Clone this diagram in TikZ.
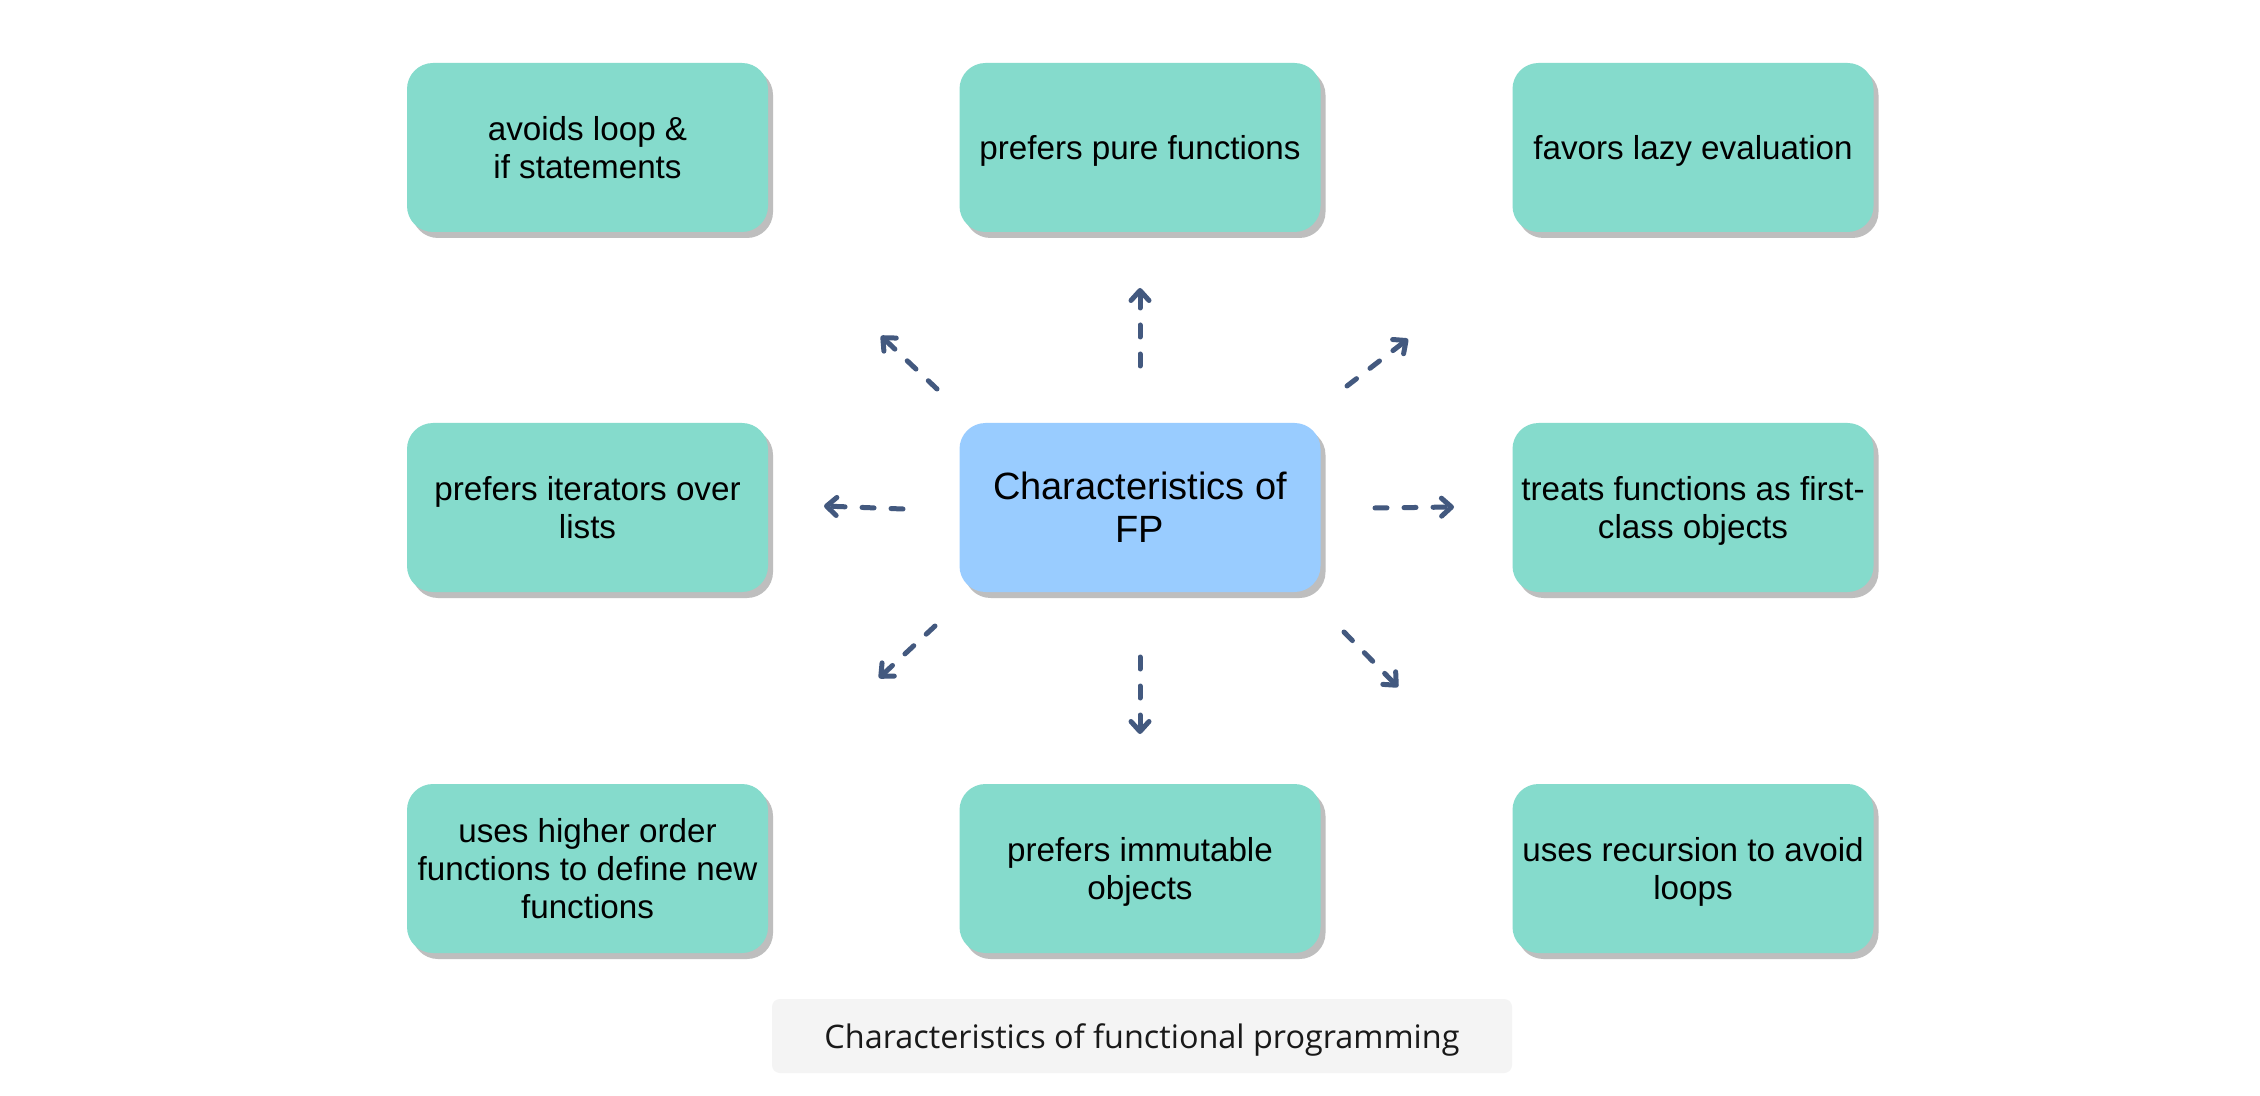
\documentclass[tikz,border=0pt]{standalone}
\usepackage{fontspec}
\setmainfont{Liberation Sans}
\newfontfamily\capfont{Open Sans}
\usetikzlibrary{arrows.meta,shadows}
\definecolor{tealbox}{HTML}{85DBCC}
\definecolor{bluebox}{HTML}{99CCFF}
\definecolor{shadowgray}{HTML}{BEBEBE}
\definecolor{arrowcol}{HTML}{43597F}
\definecolor{capbg}{HTML}{F4F4F4}
\begin{document}
\begin{tikzpicture}[x=0.5pt,y=-0.5pt,
  cbox/.style={rounded corners=13pt, minimum width=180.5pt, minimum height=84.5pt,
    inner sep=0pt, align=center, text=black, text depth=0pt,
    font=\fontsize{16.6pt}{18.9pt}\selectfont,
    drop shadow={shadow xshift=2.5pt, shadow yshift=-3pt, fill=shadowgray, opacity=1}},
  tealnode/.style={cbox, fill=tealbox},
  centernode/.style={cbox, fill=bluebox, font=\fontsize{19pt}{21.5pt}\selectfont},
  conn/.style={draw=arrowcol, line width=2.5pt, line cap=round, line join=round,
    dash pattern=on 6pt off 8.5pt,
    -{Straight Barb[length=5pt, width=9pt, round]}},
  capnode/.style={fill=capbg, rounded corners=4pt, minimum width=370pt, minimum height=37pt,
    inner sep=0pt, text depth=0pt, font=\capfont\fontsize{16.2pt}{18pt}\selectfont, text=black!90}
]
\useasboundingbox (0,0) rectangle (2260,1096);
\fill[white] (0,0) rectangle (2260,1096);

\node[tealnode] (tl) at (587.5,147.5) {avoids loop \&\\if statements};
\node[tealnode] (tc) at (1140,147.5) {prefers pure functions};
\node[tealnode] (tr) at (1693,147.5) {favors lazy evaluation};
\node[tealnode] (ml) at (587.5,507.5) {prefers iterators over\\lists};
\node[centernode] (mc) at (1140,507.5) {Characteristics of\\FP};
\node[tealnode] (mr) at (1693,507.5) {treats functions as first-\\class objects};
\node[tealnode] (bl) at (587.5,868.5) {uses higher order\\functions to define new\\functions};
\node[tealnode] (bc) at (1140,868.5) {prefers immutable\\objects};
\node[tealnode] (br) at (1693,868.5) {uses recursion to avoid\\loops};

\node[capnode] (cap) at (1142,1036) {Characteristics of functional programming};

\coordinate (ulS) at (937,389); \coordinate (ulE) at (881,336);
\coordinate (uS) at (1140,366); \coordinate (uE) at (1140,288);
\coordinate (urS) at (1347,386); \coordinate (urE) at (1408,339);
\coordinate (lS) at (903,509); \coordinate (lE) at (824,506);
\coordinate (rS) at (1375,508); \coordinate (rE) at (1454,507);
\coordinate (dlS) at (935,626); \coordinate (dlE) at (879,678);
\coordinate (dS) at (1140,657); \coordinate (dE) at (1140,734);
\coordinate (drS) at (1344,632); \coordinate (drE) at (1398,687);

\draw[conn] (ulS) -- (ulE);
\draw[conn] (uS) -- (uE);
\draw[conn] (urS) -- (urE);
\draw[conn] (lS) -- (lE);
\draw[conn] (rS) -- (rE);
\draw[conn] (dlS) -- (dlE);
\draw[conn] (dS) -- (dE);
\draw[conn] (drS) -- (drE);
\end{tikzpicture}
\end{document}
